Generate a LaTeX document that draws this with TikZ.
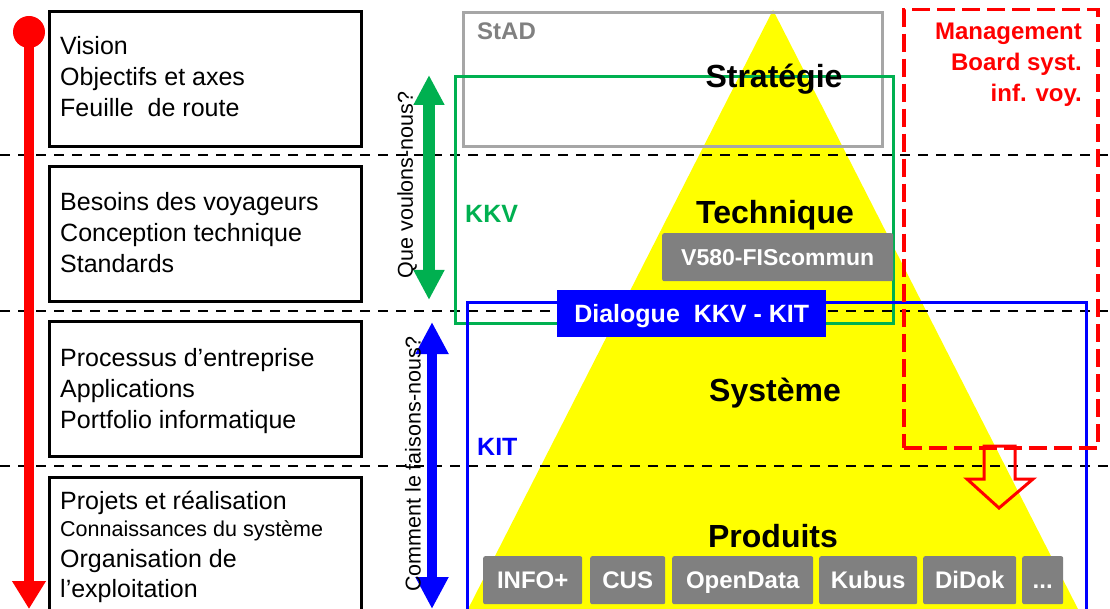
\documentclass[tikz,border=0pt]{standalone}
\usepackage{fontspec}
\setmainfont{Liberation Sans}
\usetikzlibrary{arrows.meta}
\definecolor{tgreen}{HTML}{00B050}
\definecolor{tblue}{HTML}{0000FF}
\definecolor{tred}{HTML}{FF0000}
\definecolor{tyellow}{HTML}{FFFF00}
\definecolor{tgray}{HTML}{808080}
\definecolor{lgray}{HTML}{A6A6A6}
\begin{document}
\begin{tikzpicture}[x=1pt,y=-1pt,
  leftbox/.style={draw=black, line width=3pt, anchor=north west, inner sep=0pt, minimum width=312pt},
  lefttext/.style={anchor=base west, inner sep=0pt, font=\fontsize{25}{30}\selectfont},
  smalltext/.style={anchor=base west, inner sep=0pt, font=\fontsize{21.5}{26}\selectfont},
  level/.style={anchor=base, inner sep=0pt, font=\bfseries\fontsize{32}{36}\selectfont},
  prod/.style={fill=tgray, rounded corners=2pt, anchor=north west, inner sep=0pt, minimum height=48pt,
    text=white, font=\bfseries\fontsize{24}{28}\selectfont, text height=17pt, text depth=0pt},
  sep/.style={draw=black, line width=2pt, dash pattern=on 10pt off 8pt},
  rot/.style={rotate=90, inner sep=0pt, font=\fontsize{21.5}{26}\selectfont},
  frame/.style={line width=3pt, anchor=north west, inner sep=0pt},
  mbtext/.style={anchor=base east, inner sep=0pt, text=tred, font=\bfseries\fontsize{24}{31}\selectfont},
]
\useasboundingbox (0,0) rectangle (1110,609);
\clip (0,0) rectangle (1110,609);
% pyramid
\fill[tyellow] (773,10) -- (465,615) -- (1081,615) -- cycle;
% separators
\coordinate (s1a) at (0,155); \coordinate (s1b) at (1110,155);
\coordinate (s2a) at (0,311); \coordinate (s2b) at (1110,311);
\coordinate (s3a) at (0,466); \coordinate (s3b) at (1110,466);
\draw[sep] (s1a) -- (s1b);
\draw[sep] (s2a) -- (s2b);
\draw[sep] (s3a) -- (s3b);
% frames
\node[frame, draw=lgray, minimum width=419pt, minimum height=134pt] (stad) at (462,11) {};
\node[frame, draw=tgreen, minimum width=438pt, minimum height=247pt] (kkvbox) at (454,75) {};
\node[frame, draw=tblue, minimum width=619pt, minimum height=330pt] (kitbox) at (466,301) {};
\node[frame, draw=tred, line width=3.5pt, dash pattern=on 18pt off 7pt, minimum width=194pt, minimum height=438pt] (mb) at (902,8) {};
% hollow arrow
\draw[tred, line width=3pt, line join=miter] (984,446) -- (984,479) -- (967,479) -- (999,508) -- (1033,479) -- (1015,479) -- (1015,446) -- cycle;
% left boxes
\node[leftbox, minimum height=135pt] (b1) at (48,10) {};
\node[leftbox, minimum height=135pt] (b2) at (48,165) {};
\node[leftbox, minimum height=135pt] (b3) at (48,320) {};
\node[leftbox, minimum height=150pt] (b4) at (48,476) {};
% red timeline
\coordinate (rtop) at (29,32);
\coordinate (rbot) at (29,609);
\fill[tred] (rtop) circle (16pt);
\draw[tred, line width=10pt, -{Triangle[length=28pt,width=32pt]}] (rtop) -- (rbot);
% left texts
\node[lefttext] (t11) at (60,55) {Vision};
\node[lefttext] (t12) at (60,86) {Objectifs et axes};
\node[lefttext] (t13) at (60,117) {Feuille\ \ de route};
\node[lefttext] (t21) at (60,211) {Besoins des voyageurs};
\node[lefttext] (t22) at (60,242) {Conception technique};
\node[lefttext] (t23) at (60,273) {Standards};
\node[lefttext] (t31) at (60,366) {Processus d’entreprise};
\node[lefttext] (t32) at (60,397) {Applications};
\node[lefttext] (t33) at (60,428) {Portfolio informatique};
\node[lefttext] (t41) at (60,509) {Projets et réalisation};
\node[smalltext] (t42) at (60,536) {Connaissances du système};
\node[lefttext] (t43) at (60,567) {Organisation de};
\node[lefttext] (t44) at (60,597) {l’exploitation};
% double arrows
\coordinate (ga) at (429,75); \coordinate (gb) at (429,300);
\draw[tgreen, line width=12pt, {Triangle[length=30pt,width=29pt]}-{Triangle[length=30pt,width=29pt]}] (ga) -- (gb);
\coordinate (ba) at (432,322); \coordinate (bb) at (432,609);
\draw[tblue, line width=10pt, {Triangle[length=32pt,width=31pt]}-{Triangle[length=32pt,width=31pt]}] (ba) -- (bb);
\node[rot] (q1) at (407,185) {Que voulons-nous?};
\node[rot] (q2) at (413,464) {Comment le faisons-nous?};
% labels
\node[anchor=base west, inner sep=0pt, text=tgray, font=\bfseries\fontsize{24}{28}\selectfont] (stadl) at (477,40) {StAD};
\node[anchor=base west, inner sep=0pt, text=tgreen, font=\bfseries\fontsize{25}{28}\selectfont] (kkvl) at (465,223) {KKV};
\node[anchor=base west, inner sep=0pt, text=tblue, font=\bfseries\fontsize{25}{28}\selectfont] (kitl) at (477,455) {KIT};
\node[mbtext] (mb1) at (1082,40) {Management};
\node[mbtext] (mb2) at (1082,71) {Board syst.};
\node[mbtext] (mb3) at (1082,102) {inf. voy.};
\node[level] (strat) at (774,88) {Stratégie};
\node[level] (tech) at (775,224) {Technique};
\node[level] (sys) at (775,401) {Système};
\node[level] (prodl) at (773,547) {Produits};
% gray boxes
\node[prod, minimum width=231pt, font=\bfseries\fontsize{23}{27}\selectfont, text height=16.5pt] (v580) at (662,233) {V580-FIScommun};
\node[anchor=north west, fill=tblue, inner sep=0pt, minimum width=269pt, minimum height=47pt, text=white,
  font=\bfseries\fontsize{25}{28}\selectfont, text height=18pt, text depth=0pt] (dial) at (557,290) {Dialogue\ \ KKV - KIT};
\node[prod, minimum width=99pt] (p1) at (483,556) {INFO+};
\node[prod, minimum width=75pt] (p2) at (590,556) {CUS};
\node[prod, minimum width=141pt] (p3) at (672,556) {OpenData};
\node[prod, minimum width=98pt] (p4) at (819,556) {Kubus};
\node[prod, minimum width=93pt] (p5) at (923,556) {DiDok};
\node[prod, minimum width=41pt] (p6) at (1022,556) {...};
\end{tikzpicture}
\end{document}
